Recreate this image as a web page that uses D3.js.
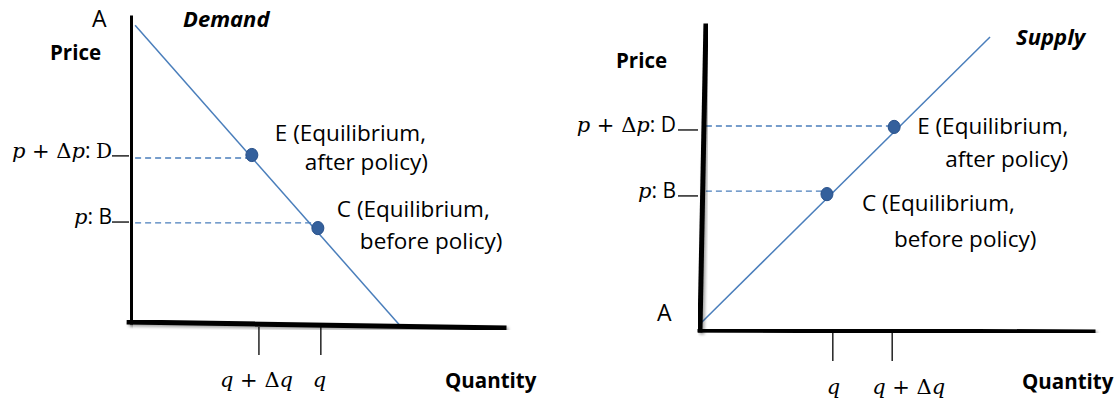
<!DOCTYPE html>
<html lang="en">
<head>
<meta charset="utf-8">
<title>Demand and supply, policy shift</title>
<script src="https://cdn.jsdelivr.net/npm/d3@7"></script>
<style>
  body { margin: 0; background: #ffffff; }
  svg { display: block; }
  .sans { font-family: "Open Sans", "Noto Sans", sans-serif; fill: #000; }
  .math { font-family: "DejaVu Serif", "Liberation Serif", serif; fill: #000; }
</style>
</head>
<body>
<script>
// Width and height
var w = 1119;
var h = 402;

// ---- data (quantity and price in percent of each axis) ----
// Demand panel
var demandLine = [{q: 1.1, p: 98.3}, {q: 72.4, p: -1.6}];
var demandEquilibria = [
  {id: "E", q: 32.4, p: 55.3, guideP: 54.3, text: ["E (Equilibrium,", "after policy)"]},
  {id: "C", q: 50.1, p: 31.1, guideP: 32.8, text: ["C (Equilibrium,", "before policy)"]}
];
var demandPriceTicks = [{p: 55.0, label: "p + Δp", point: "D"}, {p: 33.1, label: "p", point: "B"}];
var demandQuantityTicks = [{q: 34.3, label: "q + Δq"}, {q: 50.9, label: "q"}];

// Supply panel
var supplyLine = [{q: 0.25, p: 2.3}, {q: 73.8, p: 96.4}];
var supplyEquilibria = [
  {id: "E", q: 49.4, p: 66.8, guideP: 67.1, text: ["E (Equilibrium,", "after policy)"]},
  {id: "C", q: 32.3, p: 44.7, guideP: 45.7, text: ["C (Equilibrium,", "before policy)"]}
];
var supplyPriceTicks = [{p: 65.8, label: "p + Δp", point: "D"}, {p: 44.1, label: "p", point: "B"}];
var supplyQuantityTicks = [{q: 33.8, label: "q"}, {q: 48.9, label: "q + Δq"}];

// ---- layout ----
var panels = [
  {
    title: "Demand", curve: demandLine, eq: demandEquilibria,
    pTicks: demandPriceTicks, qTicks: demandQuantityTicks,
    xRange: [131, 504], yRange: [322, 20],
    yAxis: [{q: 0.3, p: 100.7}, {q: 0, p: 0}],
    xAxis: [{q: -0.5, p: 0}, {q: 100, p: -2}],
    guideStart: 1.1, pTickLen: 19, pLabelGap: 0, serifPoint: ["D"],
    qTickTop: 327, qTickBottom: 355, qLabelY: 387, qLabelDx: [-39, -8],
    labelDx: {E: [23, 53], C: [19, 42]}, labelDy: {E: [-14, 15], C: [-11, 21]},
    title_xy: [183, 27], price_xy: [50, 60], a_xy: [92, 27], quantity_xy: [445, 388]
  },
  {
    title: "Supply", curve: supplyLine, eq: supplyEquilibria,
    pTicks: supplyPriceTicks, qTicks: supplyQuantityTicks,
    xRange: [700, 1093], yRange: [330, 26],
    yAxis: [{q: 1.5, p: 100}, {q: 0, p: 0}],
    xAxis: [{q: 0, p: 0}, {q: 100, p: -0.66}],
    guideStart: 1.5, pTickLen: 22, pLabelGap: 2, serifPoint: [],
    qTickTop: 333, qTickBottom: 361, qLabelY: 394, qLabelDx: [-6, -20],
    labelDx: {E: [23, 51], C: [35, 67]}, labelDy: {E: [7, 40], C: [17, 53]},
    title_xy: [1016, 45], price_xy: [616, 68], a_xy: [657, 321], quantity_xy: [1022, 389]
  }
];

var lineBlue = "#4a7ebb";

// Create SVG element
var svg = d3.select("body")
  .append("svg")
  .attr("width", w)
  .attr("height", h);

var defs = svg.append("defs");
defs.append("filter")
  .attr("id", "shadow")
  .attr("x", "-20%").attr("y", "-20%").attr("width", "140%").attr("height", "140%")
  .append("feDropShadow")
  .attr("dx", 2).attr("dy", 2).attr("stdDeviation", 1.5)
  .attr("flood-color", "#000").attr("flood-opacity", 0.35);

// write "p + Δp" style label, variables in italic
function mathLabel(text, str) {
  str.split("").forEach(function(ch) {
    var t = text.append("tspan").text(ch);
    if (ch === "p" || ch === "q") t.attr("font-style", "italic");
  });
}

panels.forEach(function(P) {
  var xScale = d3.scaleLinear().domain([0, 100]).range(P.xRange);
  var yScale = d3.scaleLinear().domain([0, 100]).range(P.yRange);
  var line = d3.line().x(function(d) { return xScale(d.q); }).y(function(d) { return yScale(d.p); });
  var g = svg.append("g");

  // dashed guides from price axis to each equilibrium
  g.selectAll(".guide")
    .data(P.eq)
    .enter()
    .append("line")
    .attr("x1", xScale(P.guideStart))
    .attr("x2", function(d) { return xScale(d.q); })
    .attr("y1", function(d) { return yScale(d.guideP); })
    .attr("y2", function(d) { return yScale(d.guideP); })
    .attr("stroke", lineBlue)
    .attr("stroke-width", 1.3)
    .attr("stroke-dasharray", "6,4");

  // curve
  g.append("path")
    .datum(P.curve)
    .attr("d", line)
    .attr("fill", "none")
    .attr("stroke", lineBlue)
    .attr("stroke-width", 1.5);

  // axes (thick frame with a soft shadow)
  [P.yAxis, P.xAxis].forEach(function(a) {
    g.append("path")
      .datum(a)
      .attr("d", line)
      .attr("stroke", "#000")
      .attr("stroke-width", 5)
      .attr("stroke-linecap", "square")
      .attr("filter", "url(#shadow)");
  });

  // price ticks and labels
  var x0 = xScale(0);
  P.pTicks.forEach(function(d) {
    var y = yScale(d.p);
    g.append("line")
      .attr("x1", x0 - P.pTickLen).attr("x2", x0 - 2)
      .attr("y1", y).attr("y2", y)
      .attr("stroke", "#000").attr("stroke-width", 1.3);
    var t = g.append("text")
      .attr("x", x0 - P.pTickLen - P.pLabelGap)
      .attr("y", y + 2)
      .attr("text-anchor", "end")
      .attr("font-size", 21);
    var m = t.append("tspan").attr("class", "math");
    mathLabel(m, d.label);
    t.append("tspan").attr("class", "sans").attr("font-size", 21).text(": ");
    t.append("tspan")
      .attr("class", P.serifPoint.indexOf(d.point) >= 0 ? "math" : "sans")
      .attr("font-size", P.serifPoint.indexOf(d.point) >= 0 ? 20 : 21)
      .text(d.point);
  });

  // quantity ticks and labels
  P.qTicks.forEach(function(d, i) {
    var x = xScale(d.q);
    g.append("line")
      .attr("x1", x).attr("x2", x)
      .attr("y1", P.qTickTop).attr("y2", P.qTickBottom)
      .attr("stroke", "#000").attr("stroke-width", 1.3);
    var t = g.append("text")
      .attr("class", "math")
      .attr("x", x + P.qLabelDx[i])
      .attr("y", P.qLabelY)
      .attr("font-size", 21);
    mathLabel(t, d.label);
  });

  // equilibrium markers
  g.selectAll(".pt")
    .data(P.eq)
    .enter()
    .append("ellipse")
    .attr("cx", function(d) { return xScale(d.q); })
    .attr("cy", function(d) { return yScale(d.p); })
    .attr("rx", 6).attr("ry", 6.6)
    .attr("fill", "#34609c")
    .attr("stroke", "#28508a")
    .attr("stroke-width", 1);

  // equilibrium labels
  P.eq.forEach(function(d) {
    var cx = xScale(d.q), cy = yScale(d.p);
    d.text.forEach(function(s, k) {
      g.append("text")
        .attr("class", "sans")
        .attr("x", cx + P.labelDx[d.id][k])
        .attr("y", cy + P.labelDy[d.id][k])
        .attr("font-size", 22.5)
        .text(s);
    });
  });

  // titles and axis names
  g.append("text").attr("class", "sans")
    .attr("x", P.title_xy[0]).attr("y", P.title_xy[1])
    .attr("font-size", 22).attr("font-weight", "bold").attr("font-style", "italic")
    .text(P.title);
  g.append("text").attr("class", "sans")
    .attr("x", P.price_xy[0]).attr("y", P.price_xy[1])
    .attr("font-size", 20.5).attr("font-weight", "bold")
    .text("Price");
  g.append("text").attr("class", "sans")
    .attr("x", P.quantity_xy[0]).attr("y", P.quantity_xy[1])
    .attr("font-size", 20.5).attr("font-weight", "bold")
    .text("Quantity");
  g.append("text").attr("class", "sans")
    .attr("x", P.a_xy[0]).attr("y", P.a_xy[1])
    .attr("font-size", 23)
    .text("A");
});
</script>
</body>
</html>
